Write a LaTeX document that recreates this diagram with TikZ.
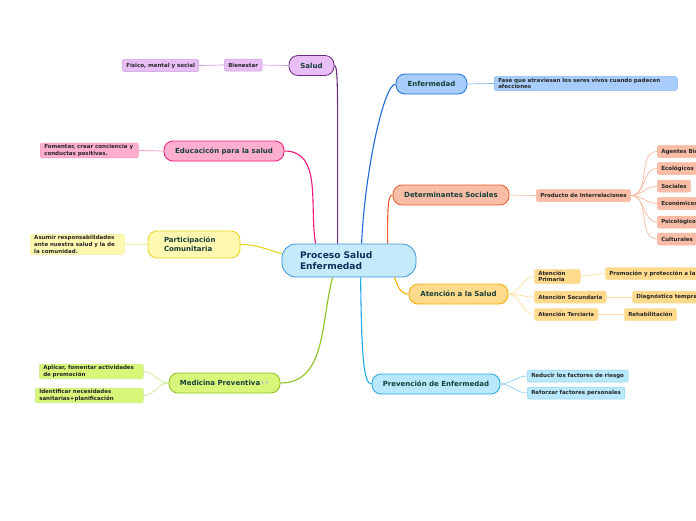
\documentclass[tikz,border=0pt]{standalone}
\usepackage{fontspec}
\setmainfont{DejaVu Sans}
\usepackage{tikz}
\usetikzlibrary{calc}
\definecolor{cenF}{HTML}{C5EAFC}
\definecolor{cenB}{HTML}{3A92D8}
\definecolor{cenT}{HTML}{10305A}
\definecolor{brT}{HTML}{153F3A}
\definecolor{salF}{HTML}{E9BDF5}
\definecolor{salB}{HTML}{6C2C83}
\definecolor{salL}{HTML}{C8A0D8}
\definecolor{eduF}{HTML}{FFAED0}
\definecolor{eduB}{HTML}{F0197A}
\definecolor{eduL}{HTML}{F890C0}
\definecolor{parF}{HTML}{FFF8B0}
\definecolor{parB}{HTML}{E8D41A}
\definecolor{parL}{HTML}{F5EBA0}
\definecolor{medF}{HTML}{D8F77A}
\definecolor{medB}{HTML}{8CC21F}
\definecolor{medL}{HTML}{C8E890}
\definecolor{enfF}{HTML}{A9CDFB}
\definecolor{enfB}{HTML}{1C6AD6}
\definecolor{enfL}{HTML}{80B4F0}
\definecolor{detF}{HTML}{F9BCA6}
\definecolor{detB}{HTML}{F05A28}
\definecolor{detL}{HTML}{F8B8A0}
\definecolor{ateF}{HTML}{FFD98C}
\definecolor{ateB}{HTML}{F5B000}
\definecolor{ateL}{HTML}{FDE0A0}
\definecolor{preF}{HTML}{B8E8FB}
\definecolor{preB}{HTML}{21A9E8}
\definecolor{preL}{HTML}{90D0F0}

\begin{document}
\begin{tikzpicture}[x=1pt,y=-1pt,
  centre/.style={draw=cenB,fill=cenF,line width=0.8pt,rounded corners=14pt,text=cenT,
    font=\bfseries\fontsize{9.1}{11}\selectfont,align=left,text width=98pt,inner xsep=18pt,minimum height=33pt},
  branch/.style={line width=0.8pt,rounded corners=9pt,text=brT,minimum height=20pt,inner sep=0pt,
    font=\bfseries\fontsize{7}{9}\selectfont,align=center},
  leaf/.style={line width=0.5pt,rounded corners=2pt,text=black!85,inner xsep=4pt,inner ysep=1.5pt,
    minimum height=12pt,anchor=west,font=\bfseries\fontsize{5.5}{6.6}\selectfont,align=left},
  link/.style={line width=1.1pt},
  twig/.style={line width=0.7pt}]
\useasboundingbox (0,0) rectangle (696,520);
\clip (0,0) rectangle (696,520);

\node [centre] (c) at (349,260.5) {Proceso Salud\\Enfermedad};

\node [branch,draw=salB,fill=salF,minimum width=45pt] (salud) at (311.5,65.5) {Salud};
\node [leaf,draw=salL,fill=salF] (bien) at (224,65) {Bienestar};
\node [leaf,draw=salL,fill=salF] (fisico) at (122,65.5) {Físico, mental y social};

\node [branch,draw=eduB,fill=eduF,minimum width=120pt] (educ) at (224,151) {Educacicón para la salud};
\node [leaf,draw=eduL,fill=eduF,text width=90pt] (foment) at (40,150.5) {Fomentar, crear conciencia y\\conductas positivas.};

\node [branch,draw=parB,fill=parF,minimum width=88pt,minimum height=27pt,text width=60pt,inner xsep=16pt,align=left] (partic) at (194,244.5) {Participación\\Comunitaria};
\node [leaf,draw=parL,fill=parF,text width=86pt] (asumir) at (30,244.5) {Asumir responsabilidades\\ante nuestra salud y la de\\la comunidad.};

\node [branch,draw=medB,fill=medF,minimum width=111pt] (medic) at (224.5,383) {Medicina Preventiva{\color{black!25}••}};
\node [leaf,draw=medL,fill=medF,text width=96pt] (aplicar) at (39,371.5) {Aplicar, fomentar actividades\\de promoción};
\node [leaf,draw=medL,fill=medF,text width=100pt] (identif) at (35,395.5) {Identificar necesidades\\sanitarias+planificación};

\node [branch,draw=enfB,fill=enfF,minimum width=71pt] (enf) at (431.5,84) {Enfermedad};
\node [leaf,draw=enfL,fill=enfF,text width=175pt] (fase) at (494,83.5) {Fase que atraviesan los seres vivos cuando padecen\\afecciones};

\node [branch,draw=detB,fill=detF,minimum width=116pt] (determ) at (451,195) {Determinantes Sociales};
\node [leaf,draw=detL,fill=detF] (producto) at (536,195.5) {Producto de Interrelaciones};
\foreach \n/\y/\t in {agentes/151.5/Agentes Biológicos,ecolog/168.5/Ecológicos,social/186/Sociales,
    econom/203.5/Económicos,psicol/222/Psicológicos,cultur/239/Culturales}
  \node [leaf,draw=detL,fill=detF] (\n) at (657,\y) {\t};

\node [branch,draw=ateB,fill=ateF,minimum width=99pt] (atenc) at (458.5,294) {Atención a la Salud};
\node [leaf,draw=ateL,fill=ateF,text width=38pt] (primar) at (534,276.5) {Atención\\Primaria};
\node [leaf,draw=ateL,fill=ateF] (secund) at (534,297) {Atención Secundaria};
\node [leaf,draw=ateL,fill=ateF] (tercia) at (534,314.5) {Atención Terciaria};
\node [leaf,draw=ateL,fill=ateF] (promo) at (605,273.5) {Promoción y protección a la salud};
\node [leaf,draw=ateL,fill=ateF] (diagn) at (632,297) {Diagnóstico temprano};
\node [leaf,draw=ateL,fill=ateF] (rehab) at (624,314.5) {Rehabilitación};

\node [branch,draw=preB,fill=preF,minimum width=128pt] (prev) at (436,384) {Prevención de Enfermedad};
\node [leaf,draw=preL,fill=preF] (reducir) at (527,376) {Reducir los factores de riesgo};
\node [leaf,draw=preL,fill=preF] (reforz) at (527,393) {Reforzar factores personales};

\draw [link,salB] ($(c.north west)+(56,0)$) .. controls +(0,-150) and +(4,0) .. (salud.east);
\draw [link,eduB] ($(c.north west)+(34,0)$) to[out=100,in=0] (educ.east);
\draw [link,parB] ($(c.west)+(0,-7)$) to[out=165,in=0] (partic.east);
\draw [link,medB] ($(c.south west)+(51,0)$) to[out=-105,in=0] (medic.east);
\draw [link,enfB] ($(c.north west)+(80,0)$) .. controls +(3,-70) and +(-12,0) .. (enf.west);
\draw [link,detB] ($(c.north west)+(106,0)$) .. controls +(0,-35) and +(-5,0) .. (determ.west);
\draw [link,ateB] ($(c.south west)+(113,0)$) to[out=-70,in=180] (atenc.west);
\draw [link,preB] ($(c.south west)+(79,0)$) .. controls +(1,80) and +(-8,0) .. (prev.west);

\draw [twig,salL] (salud.west) -- (bien.east);
\draw [twig,salL] (bien.west) -- (fisico.east);
\draw [twig,eduL] (educ.west) -- (foment.east);
\draw [twig,parL] (partic.west) -- (asumir.east);
\draw [twig,medL] (medic.west) to[out=180,in=0] (aplicar.east);
\draw [twig,medL] (medic.west) to[out=180,in=0] (identif.east);
\draw [twig,enfL] (enf.east) -- (fase.west);
\draw [twig,detL] (determ.east) -- (producto.west);
\foreach \n in {agentes,ecolog,social,econom,psicol,cultur}
  \draw [twig,detL] (producto.east) to[out=0,in=180] (\n.west);
\foreach \n in {primar,secund,tercia}
  \draw [twig,ateL] (atenc.east) to[out=0,in=180] (\n.west);
\draw [twig,ateL] (primar.east) -- (promo.west);
\draw [twig,ateL] (secund.east) -- (diagn.west);
\draw [twig,ateL] (tercia.east) -- (rehab.west);
\draw [twig,preL] (prev.east) to[out=0,in=180] (reducir.west);
\draw [twig,preL] (prev.east) to[out=0,in=180] (reforz.west);

\end{tikzpicture}
\end{document}
